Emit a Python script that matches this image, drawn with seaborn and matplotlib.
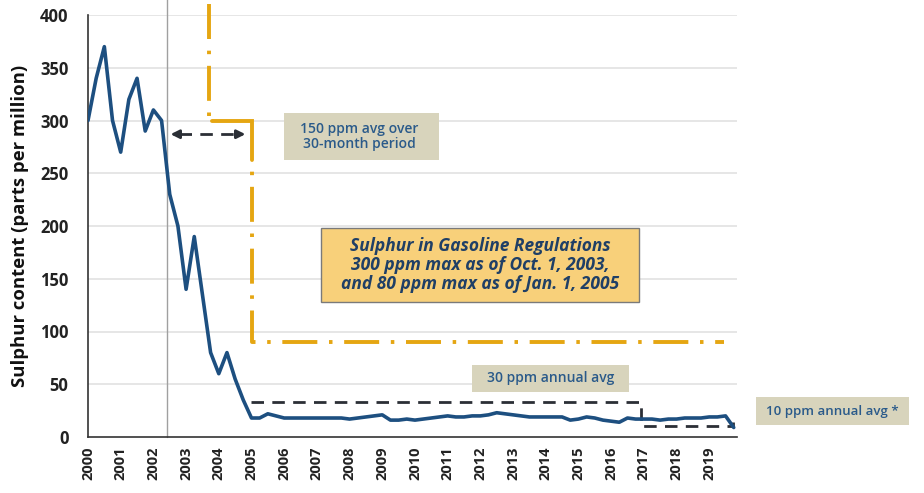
import numpy as np
import pandas as pd
import matplotlib
matplotlib.use("Agg")
import matplotlib.pyplot as plt
from matplotlib.patches import Rectangle
import seaborn as sns

# ---- data (quarterly sulphur content, ppm) ----
years = list(range(2000, 2020))
quarters = [0.0, 0.25, 0.5, 0.75]
sulphur = [
    300, 340, 370, 300,   # 2000
    270, 320, 340, 290,   # 2001
    310, 300, 230, 200,   # 2002
    140, 190, 135, 80,    # 2003
    60, 80, 55, 35,       # 2004
    18, 18, 22, 20,       # 2005
    18, 18, 18, 18,       # 2006
    18, 18, 18, 18,       # 2007
    17, 18, 19, 20,       # 2008
    21, 16, 16, 17,       # 2009
    16, 17, 18, 19,       # 2010
    20, 19, 19, 20,       # 2011
    20, 21, 23, 22,       # 2012
    21, 20, 19, 19,       # 2013
    19, 19, 19, 16,       # 2014
    17, 19, 18, 16,       # 2015
    15, 14, 18, 17,       # 2016
    17, 17, 16, 17,       # 2017
    17, 18, 18, 18,       # 2018
    19, 19, 20, 9,        # 2019
]
time = [y + q for y in years for q in quarters]

# regulation limits: 300 ppm from Oct 2003, 80 ppm (drawn ~90) from Jan 2005
reg_start, reg_switch, reg_end = 2003.7, 2005.03, 2019.45
reg_high, reg_low = 300, 90
# annual averages: 30 ppm until 2017, then 10 ppm
avg_x = [2005.0, 2016.9, 2016.9, 2019.72, 2019.72]
avg_y = [33, 33, 10, 10, 14]
period_start, period_end, period_level = 2002.42, 2004.92, 287

box_150 = "150 ppm avg over\n30-month period"
box_reg = "Sulphur in Gasoline Regulations\n300 ppm max as of Oct. 1, 2003,\nand 80 ppm max as of Jan. 1, 2005"
box_30 = "30 ppm annual avg"
box_10 = "10 ppm annual avg *"
ylabel = "Sulphur content (parts per million)"

df = pd.DataFrame({"time": time, "sulphur": sulphur})

sns.set_style("white")
plt.rcParams["font.family"] = ["Open Sans", "DejaVu Sans"]

fig = plt.figure(figsize=(9.24, 4.93), dpi=100)
ax = fig.add_axes([88 / 924, 1 - 437 / 493, (737 - 88) / 924, (437 - 15) / 493])

BLUE = "#1D4F80"
ORANGE = "#E5A612"
TXT = "#2A5A8A"
BEIGE = "#D8D4BC"
YELLOW = "#F8D07A"
DARK = "#2B2F36"

# grid
for v in range(50, 401, 50):
    ax.axhline(v, color="#E2E2E2", lw=1.2, zorder=0)

# vertical reference line
ax.plot([period_start, period_start], [0, 440], color="#A0A0A0", lw=1.0,
        clip_on=False, zorder=1)

sns.lineplot(data=df, x="time", y="sulphur", ax=ax, color=BLUE, lw=2.6, zorder=5)

# regulation step line (dash-dot, with a solid corner at 300 ppm)
dashdot = (0, (9.0, 3.0, 0.9, 3.0))
ax.plot([reg_start, reg_start], [410, reg_high + 4], color=ORANGE, lw=2.8,
        ls=dashdot, clip_on=False, zorder=3)
ax.plot([reg_start + 0.08, reg_switch, reg_switch], [reg_high, reg_high, reg_high - 37],
        color=ORANGE, lw=2.8, solid_joinstyle="miter", zorder=3)
ax.plot([reg_switch, reg_switch, reg_end], [reg_high - 37, reg_low, reg_low],
        color=ORANGE, lw=2.8, ls=(9.0, (9.0, 3.0, 0.9, 3.0)), zorder=3)

# annual average dashed line
ax.plot(avg_x, avg_y, color=DARK, lw=2.0, ls=(0, (4.5, 3.0)), zorder=4)

# double arrow 30-month period
ax.plot([period_start + 0.35, period_end - 0.35], [period_level] * 2,
        color=DARK, lw=2.0, ls=(0, (4.5, 3.0)), zorder=4)
for a, b in [(period_start + 0.5, period_start + 0.02), (period_end - 0.5, period_end - 0.02)]:
    ax.annotate("", xy=(b, period_level), xytext=(a, period_level),
                arrowprops=dict(arrowstyle="-|>,head_length=0.5,head_width=0.25",
                                color=DARK, lw=2.0))

# text boxes
def box(x0, x1, y0, y1, fc, ec="none", lw=0):
    ax.add_patch(Rectangle((x0, y0), x1 - x0, y1 - y0, fc=fc, ec=ec, lw=lw,
                           clip_on=False, zorder=6))

box(2005.99, 2010.73, 262.6, 307.1, BEIGE)
ax.text(2008.3, 285, box_150, ha="center", va="center", fontsize=10,
        fontweight="semibold", color=TXT, zorder=7, linespacing=1.15)

box(2007.13, 2016.85, 128, 198, YELLOW, ec="#7A7A7A", lw=1.0)
ax.text(2012.0, 163, box_reg, ha="center", va="center", fontsize=12.5,
        fontweight="bold", fontstyle="italic", color="#1F3F66", zorder=7,
        linespacing=1.1)

box(2011.74, 2016.54, 42.7, 68.2, BEIGE)
ax.text(2014.14, 55.5, box_30, ha="center", va="center", fontsize=10,
        fontweight="semibold", color=TXT, zorder=7)

box(2020.43, 2025.1, 11.4, 37.9, BEIGE)
ax.text(2022.76, 24.6, box_10, ha="center", va="center", fontsize=9.5,
        fontweight="semibold", color=TXT, zorder=7, clip_on=False)

# axes
ax.set_xlim(2000, 2019.85)
ax.set_ylim(0, 400)
ax.set_yticks(range(0, 401, 50))
ax.set_xticks(years)
ax.set_xticks(time, minor=True)
ax.set_xticklabels([str(y) for y in years], rotation=90, fontsize=10.5,
                   fontweight="bold", color="#222222")
ax.set_yticklabels([str(v) for v in range(0, 401, 50)], fontsize=12,
                   fontweight="bold", color="#222222")
ax.tick_params(axis="x", which="both", direction="inout", length=8, width=1.0,
               color="#333333", pad=3)
ax.tick_params(axis="y", direction="out", length=5, width=1.0, color="#333333", pad=9)
ax.set_xlabel("")
ax.set_ylabel(ylabel, fontsize=13.3, fontweight="bold", color="#111111", labelpad=8)
for s in ["top", "right"]:
    ax.spines[s].set_visible(False)
for s in ["left", "bottom"]:
    ax.spines[s].set_color("#333333")
    ax.spines[s].set_linewidth(1.2)

fig.savefig("out.png", dpi=100)
